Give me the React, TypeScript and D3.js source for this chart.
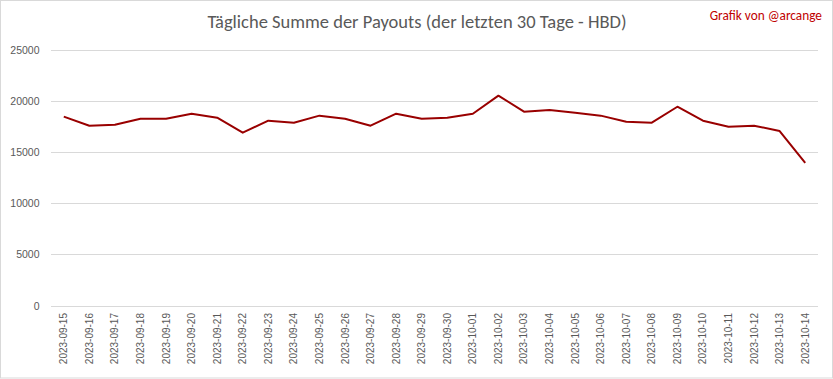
import React from "react";
import * as d3 from "d3";

const dates = [
  "2023-09-15","2023-09-16","2023-09-17","2023-09-18","2023-09-19","2023-09-20",
  "2023-09-21","2023-09-22","2023-09-23","2023-09-24","2023-09-25","2023-09-26",
  "2023-09-27","2023-09-28","2023-09-29","2023-09-30","2023-10-01","2023-10-02",
  "2023-10-03","2023-10-04","2023-10-05","2023-10-06","2023-10-07","2023-10-08",
  "2023-10-09","2023-10-10","2023-10-11","2023-10-12","2023-10-13","2023-10-14",
];
const payouts = [
  18440, 17560, 17660, 18240, 18240, 18730,
  18340, 16880, 18050, 17850, 18540, 18240,
  17560, 18730, 18240, 18340, 18730, 20490,
  18930, 19090, 18830, 18540, 17950, 17850,
  19410, 18050, 17460, 17560, 17040, 13920,
];
const yTicks = [0, 5000, 10000, 15000, 20000, 25000];
const title = "Tägliche Summe der Payouts (der letzten 30 Tage - HBD)";
const credit = "Grafik von @arcange";

const W = 833, H = 379;
const left = 51, right = 818, top = 49.5, bottom = 305.5;

export default function App() {
  const x = d3.scaleBand<string>().domain(dates).range([left, right]);
  const y = d3.scaleLinear().domain([0, 25000]).range([bottom, top]);
  const line = d3.line<number>()
    .x((_, i) => (x(dates[i]) as number) + x.bandwidth() / 2)
    .y((d) => y(d));
  const font = "Carlito, Calibri, 'Liberation Sans', Arial, sans-serif";
  return (
    <svg width={W} height={H} style={{ position: "absolute", left: 0, top: 0, background: "#fff" }}>
      <rect x={0.5} y={0.5} width={W - 1} height={H - 1.5} fill="#fff" stroke="#d9d9d9" />
      <text x={417} y={27.5} textAnchor="middle" fontFamily={font} fontSize={18.5} fontWeight={300} fill="#595959">{title}</text>
      <text x={822} y={20} textAnchor="end" fontFamily={font} fontSize={13.3} fill="#c00000">{credit}</text>
      {yTicks.map((t) => (
        <g key={t}>
          <line x1={left} x2={right} y1={Math.round(y(t)) + 0.5} y2={Math.round(y(t)) + 0.5} stroke="#d9d9d9" strokeWidth={1} />
          <text x={39.5} y={y(t) + 4} textAnchor="end" fontFamily="'Liberation Sans', Arial, sans-serif" fontSize={10.5} fill="#595959">{t}</text>
        </g>
      ))}
      {dates.map((d) => {
        const cx = (x(d) as number) + x.bandwidth() / 2;
        return (
          <text key={d} transform={`translate(${cx + 3.5},313) rotate(-90)`} textAnchor="end"
            fontFamily="'Liberation Sans', Arial, sans-serif" fontSize={10} fill="#595959">{d}</text>
        );
      })}
      <path d={line(payouts) || ""} fill="none" stroke="#990000" strokeWidth={2} strokeLinejoin="round" />
    </svg>
  );
}
